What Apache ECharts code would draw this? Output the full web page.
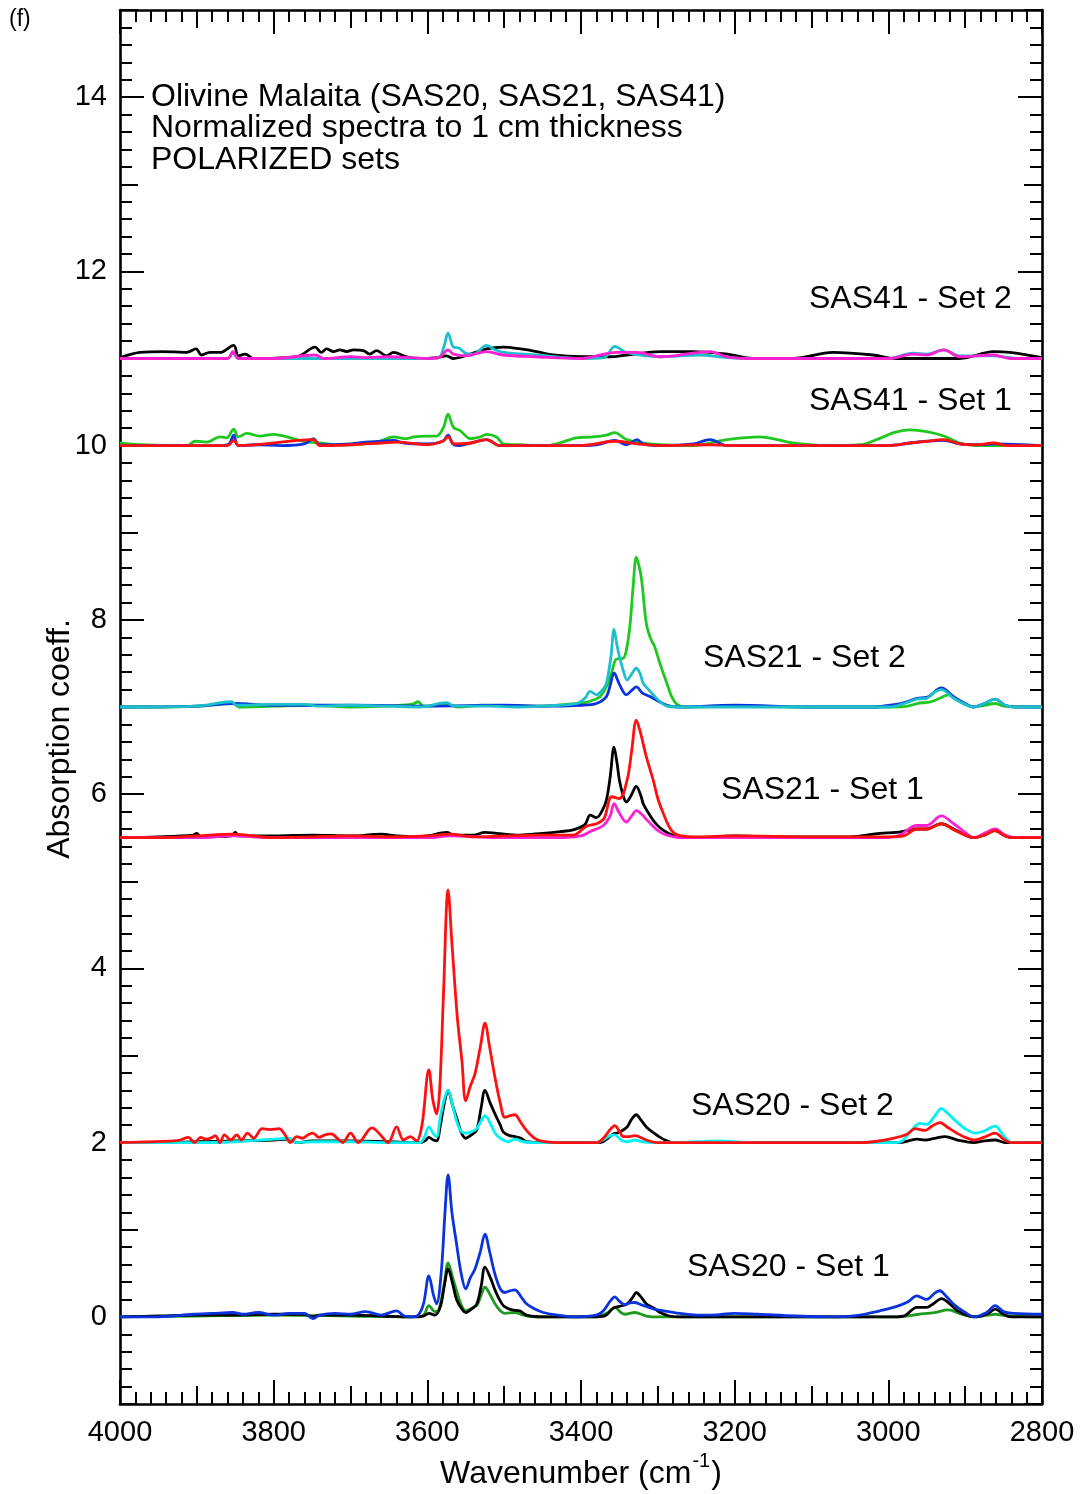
<!DOCTYPE html>
<html>
<head>
<meta charset="utf-8">
<script src="https://cdn.jsdelivr.net/npm/echarts@6/dist/echarts.min.js"></script>
<style>
  html, body { margin: 0; padding: 0; background: #fff; }
  #chart { width: 1085px; height: 1494px; }
</style>
</head>
<body>
<div id="chart"></div>
<script>
// Polarized FTIR spectra of Malaita olivines, offset per sample/set.
// Each series is a list of [wavenumber (cm-1), absorption coefficient] pairs.

const xTicks = [4000, 3800, 3600, 3400, 3200, 3000, 2800];
const yTicks = [0, 2, 4, 6, 8, 10, 12, 14];

// ---- SAS20 - Set 1 (baseline 0) ----
const sas20s1Black = [[4000,0],[3950,0.01],[3900,0.02],[3850,0.02],[3800,0.03],[3760,0.03],[3750,0.0],[3740,0.02],[3700,0.02],[3660,0.01],[3620,0.0],[3605,0.01],[3598,0.04],[3590,0.02],[3583,0.12],[3578,0.35],[3573,0.55],[3567,0.38],[3562,0.2],[3555,0.09],[3550,0.05],[3544,0.08],[3536,0.14],[3530,0.35],[3525,0.57],[3518,0.45],[3512,0.31],[3505,0.18],[3500,0.12],[3490,0.08],[3480,0.07],[3471,0.02],[3450,0],[3400,0],[3370,0.01],[3358,0.10],[3350,0.12],[3340,0.15],[3333,0.22],[3328,0.28],[3322,0.23],[3315,0.15],[3305,0.1],[3297,0.05],[3285,0.01],[3270,0],[3100,0],[3000,0],[2980,0.01],[2963,0.11],[2950,0.11],[2940,0.16],[2931,0.21],[2920,0.15],[2910,0.07],[2895,0.01],[2885,0],[2870,0.04],[2861,0.09],[2850,0.03],[2840,0],[2800,0]];
const sas20s1Green = [[4000,0],[3900,0.01],[3800,0.02],[3700,0.01],[3620,0],[3605,0.02],[3598,0.13],[3590,0.06],[3585,0.08],[3578,0.38],[3573,0.62],[3567,0.45],[3562,0.3],[3555,0.12],[3550,0.07],[3540,0.11],[3535,0.14],[3530,0.25],[3525,0.34],[3518,0.25],[3512,0.15],[3505,0.07],[3499,0.04],[3486,0.05],[3475,0.02],[3460,0],[3380,0],[3365,0.05],[3356,0.11],[3348,0.05],[3343,0.03],[3330,0.05],[3315,0.01],[3300,0],[2990,0],[2960,0.03],[2940,0.05],[2922,0.08],[2905,0.03],[2889,0],[2870,0.02],[2861,0.03],[2845,0.01],[2800,0]];
const sas20s1Blue = [[4000,0],[3950,0],[3905,0.03],[3880,0.04],[3853,0.05],[3840,0.03],[3820,0.05],[3800,0.02],[3780,0.04],[3760,0.04],[3749,-0.02],[3740,0.02],[3720,0.04],[3700,0.03],[3680,0.06],[3660,0.02],[3640,0.07],[3630,0.01],[3620,0.0],[3612,0.02],[3605,0.15],[3598,0.47],[3592,0.25],[3588,0.15],[3582,0.5],[3577,1.2],[3573,1.63],[3568,1.2],[3562,0.84],[3556,0.5],[3550,0.32],[3544,0.45],[3538,0.55],[3531,0.75],[3525,0.95],[3519,0.75],[3512,0.49],[3505,0.32],[3499,0.28],[3492,0.3],[3486,0.31],[3478,0.23],[3471,0.15],[3460,0.09],[3449,0.05],[3430,0.02],[3410,0],[3380,0.02],[3370,0.08],[3362,0.18],[3356,0.23],[3350,0.18],[3343,0.14],[3336,0.16],[3330,0.165],[3322,0.14],[3315,0.12],[3305,0.09],[3293,0.07],[3271,0.04],[3250,0.02],[3230,0.02],[3200,0.04],[3170,0.03],[3120,0.01],[3063,0],[3037,0.02],[3011,0.07],[2989,0.12],[2975,0.17],[2963,0.24],[2950,0.2],[2940,0.27],[2933,0.3],[2925,0.24],[2915,0.145],[2900,0.05],[2889,0],[2872,0.05],[2861,0.13],[2850,0.06],[2837,0.04],[2800,0.03]];

// ---- SAS20 - Set 2 (baseline 2) ----
const sas20s2Black = [[4000,2.0],[3950,2.0],[3900,2.01],[3850,2.02],[3800,2.03],[3780,2.04],[3770,2.0],[3750,2.02],[3700,2.02],[3650,2.01],[3610,2.0],[3603,2.02],[3598,2.06],[3592,2.03],[3588,2.02],[3583,2.2],[3578,2.45],[3573,2.6],[3567,2.42],[3562,2.29],[3556,2.12],[3550,2.05],[3544,2.08],[3536,2.14],[3530,2.4],[3525,2.6],[3518,2.45],[3512,2.33],[3505,2.2],[3501,2.12],[3493,2.08],[3486,2.07],[3478,2.05],[3471,2.01],[3450,2.0],[3375,2.0],[3365,2.05],[3358,2.10],[3350,2.12],[3340,2.18],[3334,2.27],[3328,2.32],[3322,2.26],[3315,2.18],[3305,2.11],[3297,2.06],[3288,2.02],[3280,2.0],[3100,2.0],[2985,2.0],[2963,2.04],[2952,2.03],[2940,2.05],[2926,2.07],[2910,2.03],[2889,2.0],[2875,2.02],[2861,2.03],[2848,2.0],[2800,2.0]];
const sas20s2Cyan = [[4000,2.0],[3950,2.0],[3900,2.0],[3850,2.01],[3800,2.04],[3780,2.05],[3770,2.0],[3750,2.01],[3700,2.01],[3650,2.0],[3610,2.0],[3604,2.06],[3598,2.18],[3592,2.1],[3588,2.07],[3583,2.3],[3578,2.5],[3573,2.6],[3567,2.42],[3562,2.25],[3556,2.13],[3550,2.11],[3544,2.12],[3536,2.16],[3530,2.25],[3525,2.31],[3518,2.22],[3512,2.11],[3505,2.05],[3495,2.01],[3486,2.04],[3475,2.01],[3460,2.0],[3380,2.0],[3370,2.04],[3362,2.08],[3356,2.09],[3348,2.03],[3340,2.01],[3330,2.03],[3320,2.01],[3300,2.0],[3250,2.01],[3220,2.02],[3180,2.0],[2990,2.0],[2982,2.02],[2970,2.14],[2959,2.22],[2950,2.21],[2940,2.3],[2931,2.39],[2922,2.33],[2915,2.27],[2900,2.16],[2887,2.11],[2876,2.13],[2861,2.19],[2850,2.08],[2839,2.0],[2800,2.0]];
const sas20s2Red = [[4000,2.0],[3960,2.01],[3930,2.02],[3922,2.03],[3911,2.06],[3903,2.0],[3895,2.06],[3888,2.04],[3880,2.06],[3876,2.08],[3870,2.0],[3864,2.09],[3856,2.03],[3848,2.09],[3842,2.03],[3834,2.11],[3826,2.05],[3815,2.16],[3805,2.15],[3793,2.16],[3786,2.1],[3778,2.0],[3770,2.07],[3763,2.05],[3755,2.09],[3749,2.11],[3741,2.06],[3733,2.09],[3725,2.1],[3716,2.04],[3710,2.0],[3700,2.11],[3690,2.0],[3672,2.17],[3662,2.1],[3651,2.0],[3640,2.18],[3631,2.03],[3622,2.07],[3614,2.02],[3607,2.2],[3598,2.835],[3593,2.5],[3588,2.33],[3584,2.6],[3579,3.7],[3573,4.9],[3568,4.29],[3561,3.44],[3555,2.94],[3550,2.48],[3544,2.65],[3538,2.79],[3531,3.1],[3525,3.37],[3519,3.1],[3512,2.75],[3505,2.45],[3499,2.29],[3492,2.31],[3486,2.32],[3479,2.24],[3471,2.14],[3462,2.06],[3453,2.02],[3430,2.0],[3380,2.0],[3370,2.06],[3362,2.15],[3356,2.195],[3350,2.13],[3345,2.07],[3337,2.07],[3330,2.08],[3315,2.03],[3300,2.0],[3100,2.0],[3040,2.0],[3020,2.01],[2994,2.05],[2975,2.1],[2965,2.16],[2952,2.14],[2943,2.19],[2933,2.23],[2922,2.17],[2911,2.11],[2900,2.06],[2889,2.03],[2876,2.06],[2861,2.11],[2850,2.04],[2840,2.0],[2800,2.0]];

// ---- SAS21 - Set 1 (baseline 5.5) ----
const sas21s1Black = [[4000,5.5],[3950,5.51],[3905,5.53],[3900,5.55],[3895,5.51],[3855,5.52],[3850,5.56],[3845,5.52],[3800,5.52],[3750,5.53],[3700,5.52],[3660,5.54],[3640,5.52],[3620,5.51],[3600,5.52],[3575,5.56],[3565,5.53],[3540,5.53],[3525,5.56],[3510,5.55],[3480,5.53],[3450,5.55],[3427,5.57],[3410,5.59],[3395,5.65],[3388,5.76],[3380,5.73],[3373,5.8],[3367,5.93],[3362,6.2],[3357,6.54],[3353,6.35],[3350,6.16],[3345,5.98],[3341,5.91],[3335,5.98],[3328,6.09],[3322,5.98],[3319,5.89],[3312,5.78],[3306,5.70],[3298,5.62],[3288,5.56],[3275,5.51],[3250,5.5],[3200,5.52],[3150,5.51],[3050,5.51],[3011,5.55],[2990,5.56],[2976,5.58],[2963,5.6],[2950,5.6],[2931,5.66],[2915,5.6],[2900,5.53],[2889,5.5],[2875,5.53],[2861,5.58],[2848,5.52],[2840,5.5],[2800,5.5]];
const sas21s1Magenta = [[4000,5.5],[3900,5.5],[3853,5.52],[3800,5.5],[3700,5.5],[3600,5.5],[3570,5.52],[3500,5.5],[3430,5.5],[3400,5.52],[3388,5.57],[3371,5.64],[3362,5.75],[3357,5.89],[3350,5.78],[3341,5.68],[3334,5.75],[3328,5.81],[3320,5.76],[3315,5.71],[3306,5.63],[3298,5.57],[3288,5.53],[3270,5.5],[3000,5.5],[2985,5.53],[2963,5.64],[2950,5.64],[2931,5.75],[2915,5.66],[2900,5.56],[2889,5.5],[2875,5.55],[2861,5.6],[2848,5.53],[2835,5.5],[2800,5.5]];
const sas21s1Red = [[4000,5.5],[3950,5.5],[3900,5.52],[3853,5.54],[3800,5.5],[3750,5.51],[3700,5.52],[3650,5.51],[3600,5.52],[3570,5.54],[3540,5.51],[3500,5.52],[3450,5.53],[3427,5.53],[3410,5.53],[3393,5.63],[3380,5.66],[3370,5.72],[3360,5.97],[3350,5.95],[3340,6.16],[3334,6.5],[3328,6.85],[3323,6.72],[3315,6.43],[3306,6.16],[3300,5.95],[3293,5.78],[3282,5.58],[3270,5.52],[3250,5.51],[3200,5.52],[3100,5.51],[3000,5.51],[2980,5.52],[2963,5.6],[2950,5.6],[2931,5.66],[2915,5.59],[2900,5.53],[2889,5.5],[2875,5.53],[2861,5.58],[2848,5.52],[2840,5.5],[2800,5.5]];

// ---- SAS21 - Set 2 (baseline 7) ----
const sas21s2Green = [[4000,7.0],[3950,7.0],[3900,7.01],[3853,7.04],[3845,7.0],[3800,7.01],[3750,7.02],[3700,7.0],[3620,7.03],[3612,7.06],[3605,7.01],[3575,7.03],[3560,7.0],[3530,7.02],[3450,7.01],[3420,7.03],[3395,7.05],[3384,7.08],[3375,7.12],[3367,7.23],[3360,7.4],[3354,7.55],[3345,7.56],[3340,7.7],[3336,7.96],[3332,8.4],[3328,8.72],[3324,8.6],[3321,8.45],[3315,7.96],[3310,7.8],[3304,7.69],[3298,7.52],[3293,7.39],[3287,7.24],[3282,7.12],[3275,7.03],[3265,7.0],[3200,7.01],[3100,7.0],[3000,7.0],[2975,7.01],[2963,7.04],[2945,7.06],[2933,7.1],[2922,7.14],[2910,7.08],[2900,7.03],[2889,7.0],[2875,7.02],[2861,7.04],[2850,7.01],[2800,7.0]];
const sas21s2Blue = [[4000,7.0],[3900,7.01],[3853,7.04],[3800,7.02],[3700,7.02],[3600,7.01],[3500,7.02],[3450,7.01],[3400,7.02],[3380,7.04],[3367,7.12],[3362,7.25],[3357,7.39],[3350,7.26],[3341,7.14],[3334,7.19],[3328,7.23],[3320,7.16],[3310,7.12],[3300,7.07],[3288,7.02],[3275,7.0],[3200,7.02],[3100,7.0],[3020,7.0],[2990,7.03],[2976,7.06],[2963,7.1],[2950,7.11],[2931,7.22],[2915,7.12],[2900,7.04],[2889,7.0],[2875,7.04],[2861,7.09],[2848,7.02],[2835,7.0],[2800,7.0]];
const sas21s2Cyan = [[4000,7.0],[3900,7.01],[3855,7.06],[3848,7.02],[3800,7.03],[3760,7.03],[3740,7.01],[3700,7.02],[3650,7.01],[3610,7.0],[3575,7.05],[3565,7.01],[3520,7.01],[3480,7.0],[3430,7.02],[3405,7.04],[3395,7.1],[3388,7.18],[3380,7.14],[3372,7.2],[3367,7.27],[3361,7.58],[3357,7.89],[3353,7.7],[3350,7.58],[3345,7.42],[3340,7.31],[3334,7.38],[3328,7.445],[3323,7.38],[3319,7.27],[3312,7.2],[3306,7.14],[3297,7.06],[3288,7.01],[3275,7.0],[3100,7.0],[3000,7.0],[2976,7.05],[2963,7.09],[2950,7.1],[2940,7.17],[2931,7.2],[2915,7.1],[2900,7.03],[2889,7.0],[2875,7.04],[2861,7.09],[2848,7.02],[2835,7.0],[2800,7.0]];

// ---- SAS41 - Set 1 (baseline 10) ----
const sas41s1Green = [[4000,10.03],[3974,10.01],[3913,10.0],[3902,10.05],[3887,10.04],[3870,10.1],[3861,10.09],[3852,10.19],[3846,10.1],[3835,10.14],[3818,10.11],[3800,10.13],[3783,10.1],[3761,10.05],[3740,10.03],[3718,10.01],[3696,10.01],[3662,10.05],[3644,10.1],[3627,10.08],[3618,10.1],[3601,10.11],[3588,10.11],[3579,10.21],[3573,10.36],[3566,10.21],[3557,10.17],[3544,10.08],[3531,10.1],[3523,10.13],[3510,10.1],[3501,10.02],[3479,10.01],[3445,10.0],[3414,10.07],[3406,10.09],[3384,10.1],[3367,10.12],[3356,10.15],[3341,10.07],[3319,10.03],[3297,10.01],[3254,10.0],[3232,10.03],[3210,10.07],[3167,10.1],[3145,10.07],[3124,10.03],[3080,10.0],[3037,10.01],[3015,10.07],[2993,10.15],[2972,10.18],[2950,10.16],[2928,10.11],[2907,10.03],[2885,10.0],[2800,10.0]];
const sas41s1Blue = [[4000,10.0],[3870,10.0],[3858,10.02],[3852,10.12],[3846,10.0],[3820,10.01],[3790,10.0],[3760,10.02],[3748,10.08],[3740,10.01],[3700,10.02],[3680,10.04],[3660,10.05],[3644,10.06],[3630,10.03],[3600,10.02],[3580,10.05],[3573,10.12],[3567,10.02],[3560,10.0],[3544,10.03],[3523,10.07],[3505,10.0],[3420,10.0],[3380,10.01],[3356,10.06],[3341,10.01],[3327,10.07],[3319,10.02],[3297,10.0],[3254,10.02],[3232,10.07],[3210,10.0],[3000,10.0],[2972,10.03],[2950,10.05],[2928,10.06],[2907,10.02],[2885,10.01],[2860,10.02],[2800,10.0]];
const sas41s1Red = [[4000,10.0],[3860,10.0],[3852,10.06],[3845,10.0],[3748,10.07],[3740,10.0],[3700,10.01],[3660,10.03],[3640,10.04],[3600,10.01],[3580,10.05],[3573,10.1],[3565,10.02],[3544,10.03],[3523,10.07],[3505,10.0],[3400,10.0],[3356,10.05],[3327,10.02],[3300,10.0],[3232,10.01],[3200,10.0],[3000,10.0],[2972,10.03],[2950,10.05],[2928,10.07],[2907,10.02],[2885,10.01],[2863,10.03],[2845,10.0],[2800,10.0]];

// ---- SAS41 - Set 2 (baseline 11) ----
const sas41s2Black = [[4000,11.01],[3974,11.07],[3944,11.08],[3913,11.07],[3901,11.11],[3894,11.04],[3883,11.07],[3870,11.07],[3852,11.15],[3846,11.03],[3837,11.05],[3826,11.0],[3783,11.01],[3766,11.03],[3746,11.13],[3738,11.07],[3731,11.11],[3722,11.08],[3714,11.1],[3705,11.08],[3696,11.1],[3683,11.09],[3675,11.05],[3666,11.09],[3653,11.03],[3644,11.07],[3627,11.02],[3610,11.0],[3588,11.01],[3575,11.03],[3566,11.0],[3544,11.05],[3523,11.11],[3501,11.13],[3479,11.11],[3458,11.08],[3436,11.04],[3401,11.02],[3362,11.02],[3341,11.04],[3297,11.08],[3254,11.08],[3210,11.05],[3176,11.0],[3124,11.0],[3072,11.07],[3020,11.04],[2993,11.0],[2907,11.0],[2863,11.08],[2842,11.07],[2800,11.01]];
const sas41s2Cyan = [[4000,11.0],[3860,11.0],[3853,11.06],[3846,11.0],[3600,11.0],[3585,11.01],[3578,11.15],[3573,11.29],[3566,11.13],[3559,11.12],[3550,11.06],[3540,11.05],[3523,11.15],[3512,11.1],[3501,11.07],[3458,11.04],[3400,11.0],[3370,11.01],[3356,11.14],[3341,11.07],[3297,11.02],[3245,11.04],[3210,11.01],[3176,11.0],[3000,11.0],[2968,11.06],[2950,11.05],[2928,11.1],[2907,11.03],[2863,11.03],[2830,11.0],[2800,11.0]];
const sas41s2Magenta = [[4000,11.0],[3860,11.0],[3853,11.08],[3846,11.0],[3800,11.0],[3746,11.04],[3735,11.0],[3700,11.02],[3680,11.01],[3650,11.02],[3620,11.01],[3600,11.0],[3585,11.01],[3573,11.1],[3566,11.05],[3550,11.03],[3523,11.08],[3501,11.04],[3460,11.02],[3400,11.0],[3354,11.07],[3327,11.07],[3297,11.02],[3232,11.08],[3210,11.02],[3176,11.0],[3000,11.0],[2968,11.05],[2950,11.04],[2928,11.1],[2907,11.02],[2863,11.04],[2842,11.0],[2800,11.0]];

const FONT = '"Liberation Sans", Arial, Helvetica, sans-serif';
const TEXT_SIZE = 32;

const C = {
  black: '#000000',
  darkGreen: '#1f9a1f',
  green: '#1fc81f',
  blue: '#0b33dc',
  cyanBright: '#00f2f2',
  cyan: '#1dbfcd',
  magenta: '#ff20d2',
  red: '#ff1010'
};

function spectrum(name, data, color) {
  return {
    name: name,
    type: 'line',
    data: data,
    xAxisIndex: 0,
    yAxisIndex: 0,
    showSymbol: false,
    smooth: 0.35,
    lineStyle: { color: color, width: 2.8 },
    itemStyle: { color: color },
    emphasis: { disabled: true },
    animation: false,
    z: 3
  };
}

const series = [
  spectrum('SAS20 Set 1 a', sas20s1Green, C.darkGreen),
  spectrum('SAS20 Set 1 b', sas20s1Black, C.black),
  spectrum('SAS20 Set 1 c', sas20s1Blue, C.blue),
  spectrum('SAS20 Set 2 a', sas20s2Black, C.black),
  spectrum('SAS20 Set 2 b', sas20s2Cyan, C.cyanBright),
  spectrum('SAS20 Set 2 c', sas20s2Red, C.red),
  spectrum('SAS21 Set 1 a', sas21s1Black, C.black),
  spectrum('SAS21 Set 1 b', sas21s1Magenta, C.magenta),
  spectrum('SAS21 Set 1 c', sas21s1Red, C.red),
  spectrum('SAS21 Set 2 a', sas21s2Green, C.green),
  spectrum('SAS21 Set 2 b', sas21s2Blue, C.blue),
  spectrum('SAS21 Set 2 c', sas21s2Cyan, C.cyan),
  spectrum('SAS41 Set 1 a', sas41s1Green, C.green),
  spectrum('SAS41 Set 1 b', sas41s1Blue, C.blue),
  spectrum('SAS41 Set 1 c', sas41s1Red, C.red),
  spectrum('SAS41 Set 2 a', sas41s2Black, C.black),
  spectrum('SAS41 Set 2 b', sas41s2Cyan, C.cyan),
  spectrum('SAS41 Set 2 c', sas41s2Magenta, C.magenta)
];

const AX_LINE = { show: true, onZero: false, lineStyle: { color: '#000', width: 2.6 } };
const NO_LINE = { show: false, onZero: false };
const TICK_STYLE = { color: '#000', width: 2 };
const plain = v => String(v);

// Wavenumber axes: labelled 200 ticks + minor every 20, and 100 ticks, on bottom and top
function xAxisMajor(position, labels) {
  return {
    type: 'value', position: position, min: 2800, max: 4000, inverse: true,
    interval: 200,
    axisLine: AX_LINE,
    axisTick: { show: true, inside: true, length: 24, lineStyle: TICK_STYLE },
    minorTick: { show: true, splitNumber: 10, length: 12, lineStyle: TICK_STYLE },
    axisLabel: labels ? {
      show: true, customValues: xTicks, formatter: plain,
      color: '#000', fontSize: 29, fontFamily: FONT, margin: 14
    } : { show: false },
    splitLine: { show: false }, minorSplitLine: { show: false }
  };
}
function xAxisMid(position) {
  return {
    type: 'value', position: position, min: 2800, max: 4000, inverse: true,
    interval: 100,
    axisLine: NO_LINE,
    axisTick: { show: true, inside: true, length: 18, lineStyle: TICK_STYLE },
    axisLabel: { show: false }, splitLine: { show: false }
  };
}
// Absorption axes: labelled even ticks, unit ticks, minor every 0.2, on left and right
function yAxisUnit(position) {
  return {
    type: 'value', position: position, min: -1, max: 15, interval: 1,
    axisLine: AX_LINE,
    axisTick: { show: true, inside: true, length: 18, lineStyle: TICK_STYLE },
    minorTick: { show: true, splitNumber: 5, length: 12, lineStyle: TICK_STYLE },
    axisLabel: { show: false },
    splitLine: { show: false }, minorSplitLine: { show: false }
  };
}
function yAxisMajor(position, labels) {
  return {
    type: 'value', position: position, min: -1, max: 15,
    axisLine: NO_LINE,
    axisTick: { show: true, inside: true, length: 24, customValues: yTicks, lineStyle: TICK_STYLE },
    axisLabel: labels ? {
      show: true, customValues: yTicks, formatter: plain,
      color: '#000', fontSize: 29, fontFamily: FONT, margin: 13
    } : { show: false },
    splitLine: { show: false }
  };
}

const xBottom = xAxisMajor('bottom', true);
xBottom.name = '{t|Wavenumber (cm}{s|-1}{t|)}';
xBottom.nameLocation = 'middle';
xBottom.nameGap = 47;
xBottom.nameTextStyle = {
  color: '#000',
  rich: {
    t: { fontSize: TEXT_SIZE, fontFamily: FONT, color: '#000' },
    s: { fontSize: 20, fontFamily: FONT, color: '#000', verticalAlign: 'bottom', padding: [0, 1, 25, 1] }
  }
};

function setLabel(text, x, y) {
  return {
    type: 'text', x: x, y: y,
    style: { text: text, font: TEXT_SIZE + 'px ' + FONT, fill: '#000', textVerticalAlign: 'middle', verticalAlign: 'middle' }
  };
}

const option = {
  backgroundColor: '#ffffff',
  animation: false,
  grid: { left: 120, right: 43, top: 10, bottom: 90, containLabel: false, outerBoundsMode: 'none' },
  xAxis: [xBottom, xAxisMid('bottom'), xAxisMajor('top', false), xAxisMid('top')],
  yAxis: [yAxisUnit('left'), yAxisMajor('left', true), yAxisUnit('right'), yAxisMajor('right', false)],
  series: series,
  graphic: [
    { type: 'text', x: 9, y: 8, style: { text: '(f)', font: '23px ' + FONT, fill: '#000' } },
    { type: 'text', x: 151, y: 81, style: {
        text: 'Olivine Malaita (SAS20, SAS21, SAS41)\nNormalized spectra to 1 cm thickness\nPOLARIZED sets',
        font: TEXT_SIZE + 'px ' + FONT, fill: '#000', lineHeight: 31.5, textVerticalAlign: 'top', verticalAlign: 'top' } },
    { type: 'text', x: 60, y: 739, rotation: Math.PI / 2, style: {
        text: 'Absorption coeff.', font: TEXT_SIZE + 'px ' + FONT, fill: '#000',
        textAlign: 'center', align: 'center', textVerticalAlign: 'middle', verticalAlign: 'middle' } },
    setLabel('SAS41 - Set 2', 809, 299),
    setLabel('SAS41 - Set 1', 809, 401),
    setLabel('SAS21 - Set 2', 703, 658),
    setLabel('SAS21 - Set 1', 721, 790),
    setLabel('SAS20 - Set 2', 691, 1106),
    setLabel('SAS20 - Set 1', 687, 1267)
  ]
};

const chart = echarts.init(document.getElementById('chart'), null, { renderer: 'canvas' });
chart.setOption(option);
</script>
</body>
</html>
